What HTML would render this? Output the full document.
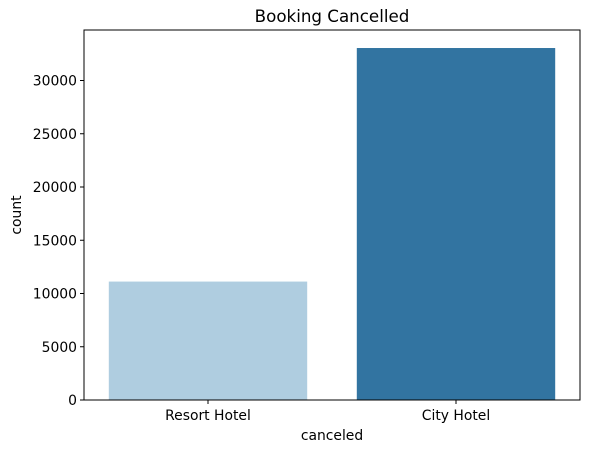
<!DOCTYPE html>
<html><head><meta charset="utf-8"><style>
body{margin:0;background:#fff;}
svg text{font-family:"DejaVu Sans","Liberation Sans",sans-serif;fill:#000;}
</style></head><body>
<svg id="chart" width="589" height="453" xmlns="http://www.w3.org/2000/svg">
<text x="332" y="22" font-size="16.7" text-anchor="middle">Booking Cancelled</text>
<g id="bars"></g>
<g id="yticks"></g>
<g id="xticks"></g>
<rect x="84" y="30" width="496" height="370" fill="none" stroke="#000" stroke-width="1"/>
<text x="332" y="440" font-size="13.9" text-anchor="middle">canceled</text>
<text transform="translate(21,215) rotate(-90)" font-size="13.9" text-anchor="middle">count</text>
</svg>
<script>
const categories = ["Resort Hotel", "City Hotel"];
const counts = [11120, 33050];
const colors = ["#afcde0", "#3274a1"];
const yTickValues = [0, 5000, 10000, 15000, 20000, 25000, 30000];

const NS = "http://www.w3.org/2000/svg";
const L = 84, R = 580, B = 400, pxPerUnit = 319.5 / 30000;
const y = v => B - v * pxPerUnit;
const band = (R - L) / categories.length;
const xc = i => L + band * (i + 0.5);

const bars = document.getElementById('bars');
categories.forEach((c, i) => {
  const w = band * 0.8;
  const r = document.createElementNS(NS, 'rect');
  r.setAttribute('x', xc(i) - w / 2);
  r.setAttribute('y', y(counts[i]));
  r.setAttribute('width', w);
  r.setAttribute('height', B - y(counts[i]));
  r.setAttribute('fill', colors[i]);
  
  
  bars.appendChild(r);

  const g = document.getElementById('xticks');
  const t = document.createElementNS(NS, 'line');
  t.setAttribute('x1', xc(i)); t.setAttribute('x2', xc(i));
  t.setAttribute('y1', B); t.setAttribute('y2', B + 4);
  t.setAttribute('stroke', '#000');
  
  
  g.appendChild(t);
  const tx = document.createElementNS(NS, 'text');
  tx.setAttribute('x', xc(i)); tx.setAttribute('y', B + 20);
  tx.setAttribute('font-size', '13.9'); tx.setAttribute('text-anchor', 'middle');
  tx.textContent = c;
  
  
  g.appendChild(tx);
});

const yg = document.getElementById('yticks');
yTickValues.forEach(v => {
  const t = document.createElementNS(NS, 'line');
  t.setAttribute('x1', L - 4); t.setAttribute('x2', L);
  t.setAttribute('y1', y(v)); t.setAttribute('y2', y(v));
  t.setAttribute('stroke', '#000');
  
  
  yg.appendChild(t);
  const tx = document.createElementNS(NS, 'text');
  tx.setAttribute('x', L - 7); tx.setAttribute('y', y(v) + 5);
  tx.setAttribute('font-size', '13.9'); tx.setAttribute('text-anchor', 'end');
  tx.textContent = v;
  
  
  yg.appendChild(tx);
});
</script>
</body></html>
